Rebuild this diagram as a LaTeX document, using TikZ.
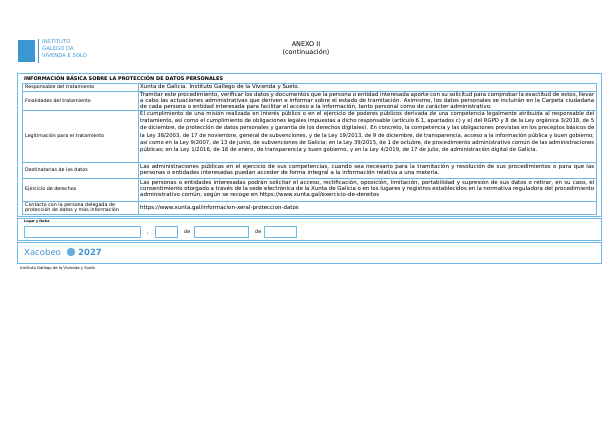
\documentclass[tikz,border=0pt]{standalone}
\usepackage{fontspec}
\setmainfont{DejaVu Sans}
\usetikzlibrary{positioning}
\definecolor{xblue}{RGB}{60,150,210}
\definecolor{lblue}{RGB}{110,185,230}
\tikzset{
  cell/.style={draw=lblue,line width=0.6pt},
  lab/.style={anchor=west,inner sep=0pt,font=\fontsize{4.8}{5.6}\selectfont},
  txt/.style={anchor=north west,inner sep=0pt,text width=454pt,align=justify,font=\fontsize{5.5}{6.2}\selectfont},
  field/.style={draw=lblue,line width=0.6pt}
}
\begin{document}
\begin{tikzpicture}[x=1pt,y=-1pt]
  \useasboundingbox[fill=white] (0,0) rectangle (615,440);
  % header
  \fill[xblue] (18,40) rectangle (35,62);
  \draw[xblue,line width=0.5pt] (38,39) -- (38,63);
  \node[anchor=north west,inner sep=0pt,align=left,text=xblue,font=\fontsize{5.3}{7}\selectfont] (inst) at (42,39) {INSTITUTO\\GALEGO DA\\VIVENDA E SOLO};
  \node[font=\fontsize{6.5}{8}\selectfont,inner sep=0pt] (anexo) at (306,44) {ANEXO II};
  \node[font=\fontsize{6.5}{8}\selectfont,inner sep=0pt,below=2pt of anexo] (cont) {(continuación)};
  % data table
  \draw[cell] (17,73) rectangle (601,216);
  \node[lab,font=\fontsize{5}{6}\selectfont\bfseries] (title) at (24,78) {INFORMACIÓN BÁSICA SOBRE LA PROTECCIÓN DE DATOS PERSONALES};
  \foreach \ya/\yb in {83/91,91/110,110/162,162/178,178/201,201/214}{
    \draw[cell] (22,\ya) rectangle (138,\yb);
    \draw[cell] (138,\ya) rectangle (596,\yb);
  }
  \node[lab] (r1) at (25,87) {Responsable del tratamiento};
  \node[lab] (r2) at (25,100.5) {Finalidades del tratamiento};
  \node[lab] (r3) at (25,136) {Legitimación para el tratamiento};
  \node[lab] (r4) at (25,170) {Destinatarias de los datos};
  \node[lab] (r5) at (25,189.5) {Ejercicio de derechos};
  \node[lab,align=left] (r6) at (25,207.5) {Contacto con la persona delegada de\\protección de datos y más información};
  \node[txt] (t1) at (140,84.5) {Xunta de Galicia. Instituto Gallego de la Vivienda y Suelo.};
  \node[txt] (t2) at (140,92) {Tramitar este procedimiento, verificar los datos y documentos que la persona o entidad interesada aporte con su solicitud para comprobar la exactitud de estos, llevar a cabo las actuaciones administrativas que deriven e informar sobre el estado de tramitación. Asimismo, los datos personales se incluirán en la Carpeta ciudadana de cada persona o entidad interesada para facilitar el acceso a la información, tanto personal como de carácter administrativo.};
  \node[txt,font=\fontsize{5.3}{7.2}\selectfont] (t3) at (140,111) {El cumplimiento de una misión realizada en interés público o en el ejercicio de poderes públicos derivada de una competencia legalmente atribuida al responsable del tratamiento, así como el cumplimiento de obligaciones legales impuestas a dicho responsable (artículo 6.1, apartados c) y e) del RGPD y 8 de la Ley orgánica 3/2018, de 5 de diciembre, de protección de datos personales y garantía de los derechos digitales). En concreto, la competencia y las obligaciones previstas en los preceptos básicos de la Ley 38/2003, de 17 de noviembre, general de subvenciones, y de la Ley 19/2013, de 9 de diciembre, de transparencia, acceso a la información pública y buen gobierno; así como en la Ley 9/2007, de 13 de junio, de subvenciones de Galicia; en la Ley 39/2015, de 1 de octubre, de procedimiento administrativo común de las administraciones públicas; en la Ley 1/2016, de 18 de enero, de transparencia y buen gobierno, y en la Ley 4/2019, de 17 de julio, de administración digital de Galicia.};
  \node[txt] (t4) at (140,163.5) {Las administraciones públicas en el ejercicio de sus competencias, cuando sea necesario para la tramitación y resolución de sus procedimientos o para que las personas o entidades interesadas puedan acceder de forma integral a la información relativa a una materia.};
  \node[txt] (t5) at (140,179.5) {Las personas o entidades interesadas podrán solicitar el acceso, rectificación, oposición, limitación, portabilidad y supresión de sus datos o retirar, en su caso, el consentimiento otorgado a través de la sede electrónica de la Xunta de Galicia o en los lugares y registros establecidos en la normativa reguladora del procedimiento administrativo común, según se recoge en https://www.xunta.gal/exercicio-de-dereitos};
  \node[lab,font=\fontsize{5.5}{6.2}\selectfont] (t6) at (140,207.5) {https://www.xunta.gal/informacion-xeral-proteccion-datos};
  % place and date
  \draw[cell] (17,218) rectangle (601,240);
  \node[lab,font=\fontsize{3.3}{4}\selectfont\bfseries] (lugar) at (24,222) {Lugar y fecha};
  \draw[field] (24,226) rectangle (140,237);
  \node[lab] (c1) at (147,233) {,};
  \draw[field] (155,226) rectangle (177,237);
  \node[lab] (de1) at (184,232) {de};
  \draw[field] (194,226) rectangle (248,237);
  \node[lab] (de2) at (255,232) {de};
  \draw[field] (264,226) rectangle (296,237);
  % footer
  \draw[cell] (17,242) rectangle (601,263);
  \node[lab,text=xblue,font=\fontsize{8.5}{10}\selectfont] (xac) at (24,252) {Xacobeo};
  \fill[xblue!80] (71,252) circle (4.2pt);
  \node[lab,text=xblue,font=\fontsize{8.5}{10}\selectfont\bfseries] (year) at (78,252) {2027};
  \node[lab,font=\fontsize{3.8}{4.5}\selectfont] (foot) at (20,268) {Instituto Gallego de la Vivienda y Suelo};
\end{tikzpicture}
\end{document}
